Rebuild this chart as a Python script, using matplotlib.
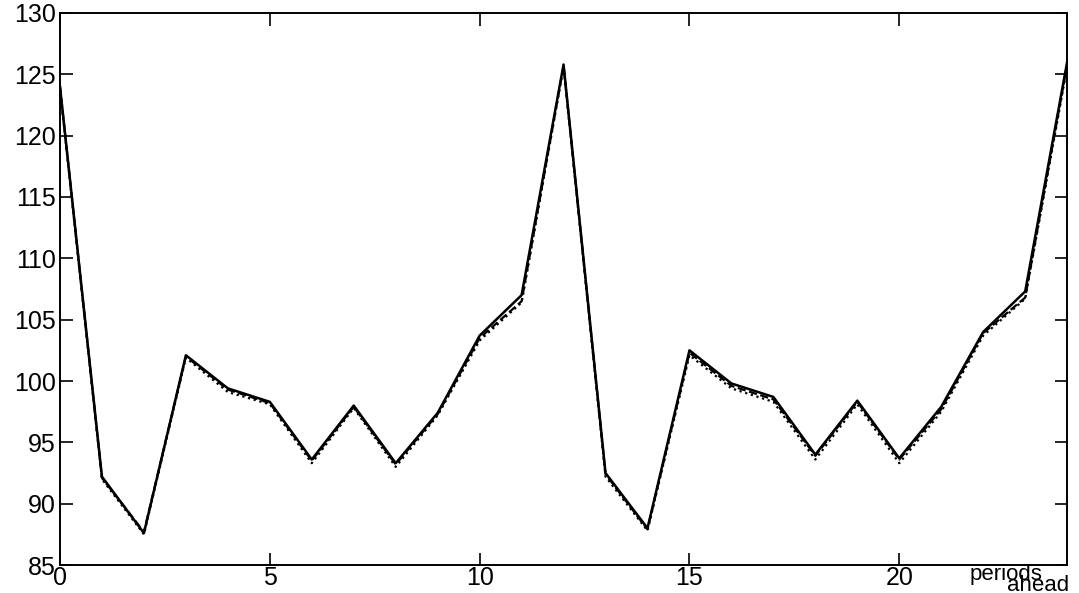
import matplotlib

matplotlib.use("Agg")
import matplotlib.pyplot as plt

periods = list(range(25))
solid = [124.0, 92.2, 87.6, 102.1, 99.4, 98.3, 93.6, 98.0, 93.3, 97.4, 103.7, 107.0,
         125.8, 92.5, 88.0, 102.5, 99.8, 98.7, 94.0, 98.4, 93.7, 97.9, 104.0, 107.3, 126.0]
dashed = [124.0, 92.1, 87.7, 102.0, 99.3, 98.2, 93.5, 97.9, 93.2, 97.3, 103.5, 106.5,
          125.7, 92.4, 87.9, 102.3, 99.6, 98.5, 93.9, 98.3, 93.6, 97.7, 103.9, 106.8, 125.8]
dotted = [123.8, 92.0, 87.5, 101.9, 99.1, 98.1, 93.3, 97.8, 93.0, 97.2, 103.3, 106.4,
          125.6, 92.2, 87.8, 102.1, 99.4, 98.3, 93.6, 98.1, 93.3, 97.5, 103.7, 106.7, 125.6]
xticks = [0, 5, 10, 15, 20]
yticks = [85, 90, 95, 100, 105, 110, 115, 120, 125, 130]

plt.rcParams["font.family"] = ["Liberation Sans", "DejaVu Sans"]

fig = plt.figure(figsize=(10.79, 5.93), dpi=100)
ax = fig.add_axes([0.0556, 0.0472, 0.9334, 0.9309])

ax.plot(periods, dotted, color="black", linestyle=":", linewidth=1.6)
ax.plot(periods, dashed, color="black", linestyle="--", linewidth=1.6)
ax.plot(periods, solid, color="black", linestyle="-", linewidth=1.8)

ax.set_xlim(0, 24)
ax.set_ylim(85, 130)
ax.set_xticks(xticks)
ax.set_yticks(yticks)
ax.tick_params(direction="in", length=9, width=1.2, labelsize=18, pad=3,
               top=True, right=True)
ax.tick_params(axis="x", pad=1)
for s in ax.spines.values():
    s.set_linewidth(1.4)

fig.text(0.932, 0.032, "periods", fontsize=16, ha="center", va="center")
fig.text(0.962, 0.013, "ahead", fontsize=16, ha="center", va="center")

fig.savefig("out.png", dpi=100)
plt.close(fig)
